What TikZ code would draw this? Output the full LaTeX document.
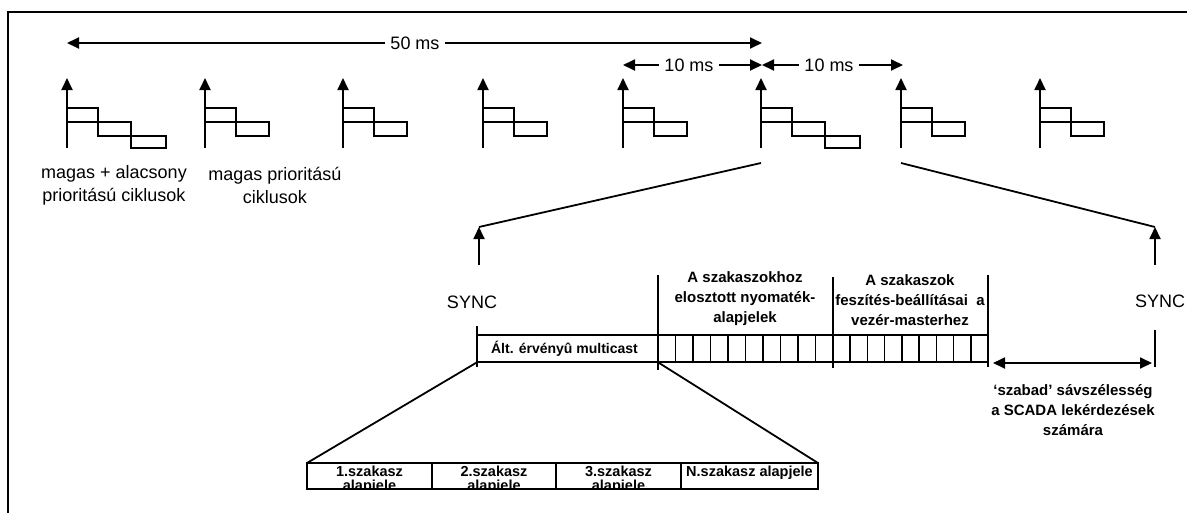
\documentclass[tikz,border=0pt]{standalone}
\usepackage{fontspec}
\setmainfont{Liberation Sans}
\usetikzlibrary{positioning,arrows.meta,calc}

\begin{document}
\begin{tikzpicture}[x=1pt,y=-1pt,line width=1.8pt,
    tip/.style={-{Triangle[length=12pt,width=11pt]}},
    dtip/.style={{Triangle[length=12pt,width=11pt]}-{Triangle[length=12pt,width=11pt]}},
    lbl/.style={font=\fontsize{18}{23}\selectfont,align=center,inner sep=0pt},
    blbl/.style={font=\bfseries\fontsize{15}{20}\selectfont,align=center,inner sep=0pt},
    gaplbl/.style={font=\fontsize{18}{23}\selectfont,fill=white,inner sep=5pt},
    cell/.style={draw,line width=1.5pt}]
    \useasboundingbox (0,0) rectangle (1187,512);
    % frame
    \draw[line width=2.6pt] (8,530) |- (1200,12);

    % time axis
    \coordinate (t0) at (67,43);
    \coordinate (t1) at (762,43);
    \node[gaplbl] (ms50) at (415,43) {50 ms};
    \draw[tip] (ms50.west) -- (t0);
    \draw[tip] (ms50.east) -- (t1);
    \coordinate (p0) at (623,65);
    \coordinate (p1) at (762,65);
    \coordinate (p2) at (903,65);
    \node[gaplbl] (msA) at (689,65) {10 ms};
    \node[gaplbl] (msB) at (829,65) {10 ms};
    \draw[tip] (msA.west) -- (p0);
    \draw[tip] (msA.east) -- (p1);
    \draw[tip] (msB.west) -- (p1);
    \draw[tip] (msB.east) -- (p2);

    % cycles
    \foreach \x/\n [count=\i] in {67/3,205/2,343/2,483/2,623/2,761/3,901/2,1040/2}{
      \coordinate (flag\i) at (\x,148);
      \draw[tip] (flag\i) -- ++(0,-70);
      \draw[line width=1.5pt] (\x,108) rectangle ++(31,14) (\x+31,122) rectangle ++(33,14);
      \ifnum\n=3 \draw[line width=1.5pt] (\x+64,136) rectangle ++(35,12); \fi
    }
    \node[lbl] (lowhigh) at (114,185) {magas + alacsony\\prioritású ciklusok};
    \node[lbl] (high) at (275,185) {magas prioritású\\ciklusok};

    % zoom of one cycle
    \coordinate (z6) at (761,163);
    \coordinate (z7) at (901,163);
    \coordinate (syncL) at (479,265);
    \coordinate (syncR) at (1155,265);
    \draw[tip] (syncL) -- ++(0,-38) coordinate (syncLtop);
    \draw[tip] (syncR) -- ++(0,-38) coordinate (syncRtop);
    \draw (z6) -- (syncLtop);
    \draw (z7) -- (syncRtop);
    \node[lbl] (syncLtxt) at (472,302) {SYNC};
    \node[lbl] (syncRtxt) at (1160,301) {SYNC};
    \draw (1155,330) -- (1155,367);

    % telegram
    \node[cell,minimum width=181pt,minimum height=27pt,
          font=\bfseries\fontsize{14}{16}\selectfont] (mc) at (567.5,348.5)
      {\hspace*{-6pt}Ált. érvényû multicast};
    \foreach \i in {0,...,9}
      \draw[line width=1.5pt] (658+\i*17.5,335) rectangle ++(17.5,27);
    \foreach \i in {0,...,8}
      \draw[line width=1.5pt] (833+\i*17.22,335) rectangle ++(17.22,27);
    \draw (477,326) -- (477,367);
    \draw (658,275) -- (658,370);
    \draw[line width=2.4pt] (833,277) -- (833,368);
    \draw (988,275) -- (988,367);
    \node[blbl] (torque) at (745,299)
      {A szakaszokhoz\\elosztott nyomaték-\\alapjelek};
    \node[blbl] (tension) at (910,300)
      {A szakaszok\\feszítés-beállításai\ \ a\\vezér-masterhez};
    \coordinate (fr0) at (993,363);
    \coordinate (fr1) at (1152,363);
    \draw[dtip] (fr0) -- (fr1);
    \node[blbl] (free) at (1073,410)
      {‘szabad’ sávszélesség\\a SCADA lekérdezések\\számára};

    % zoom of the multicast
    \coordinate (sec0) at (307,463);
    \coordinate (sec4) at (818,463);
    \draw (mc.south west) -- (sec0);
    \draw (mc.south east) -- (sec4);
    \begin{scope}
      \clip (307,463) rectangle (818,489);
      \foreach \a/\b/\t [count=\i] in {307/432/1.szakasz\\alapjele,
          432/556/2.szakasz\\alapjele,556/681/3.szakasz\\alapjele}
        \node[font=\bfseries\fontsize{14.5}{14}\selectfont,align=center,
              anchor=north,inner sep=0pt] (sec\i) at ({(\a+\b)/2},465) {\t};
      \node[font=\bfseries\fontsize{14.5}{14}\selectfont,anchor=north,
            inner sep=0pt] (secN) at (749.5,465) {N.szakasz alapjele};
    \end{scope}
    \foreach \a/\b in {307/432,432/556,556/681,681/818}
      \draw[line width=1.5pt] (\a,463) rectangle (\b,489);
  \end{tikzpicture}
\end{document}
